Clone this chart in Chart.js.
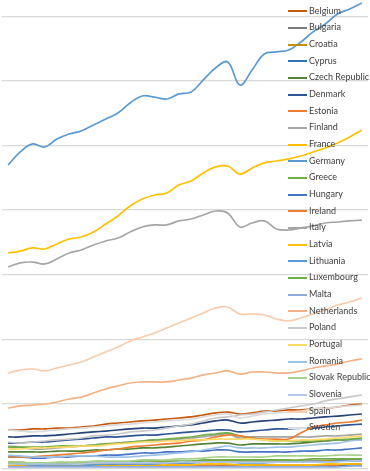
<!DOCTYPE html>
<html>
<head>
<meta charset="utf-8">
<script src="https://cdn.jsdelivr.net/npm/chart.js@4.4.0/dist/chart.umd.min.js"></script>
<style>
    body { margin: 0; background: #ffffff; }
    #wrap { position: relative; width: 370px; height: 471px; overflow: hidden; }
    #legend { position: absolute; left: 288px; top: -14px; font-family: Lato, "Liberation Sans", sans-serif; font-size: 9px; color: #404040; }
    .item { height: 16.68px; line-height: 16.68px; white-space: nowrap; }
    .swatch { display: inline-block; width: 19px; height: 2px; margin-right: 2px; vertical-align: middle; }
</style>
</head>
<body>
<div id="wrap">
    <canvas id="gdpChart" width="370" height="471"></canvas>
    <div id="legend"></div>
</div>
<script>
// 1990 - 2019
const years = [1990, 1991, 1992, 1993, 1994, 1995, 1996, 1997, 1998, 1999, 2000, 2001, 2002, 2003, 2004, 2005, 2006, 2007, 2008, 2009, 2010, 2011, 2012, 2013, 2014, 2015, 2016, 2017, 2018, 2019];

// horizontal gridlines (the value labels are cut off in the picture)
const yTicks = [0, 500, 1000, 1500, 2000, 2500, 3000, 3500];

const countries = ["Austria", "Belgium", "Bulgaria", "Croatia", "Cyprus", "Czech Republic", "Denmark", "Estonia", "Finland", "France", "Germany", "Greece", "Hungary", "Ireland", "Italy", "Latvia", "Lithuania", "Luxembourg", "Malta", "Netherlands", "Poland", "Portugal", "Romania", "Slovak Republic", "Slovenia", "Spain", "Sweden"];

const colors = ["#264478", "#C55A11", "#7B7B7B", "#BF9000", "#2E75B6", "#548235", "#2F5597", "#ED7D31", "#A5A5A5", "#FFC000", "#5B9BD5", "#70AD47", "#4472C4", "#ED7D31", "#A5A5A5", "#FFC000", "#5B9BD5", "#70AD47", "#8FAADC", "#F4B183", "#C9C9C9", "#FFD966", "#9DC3E6", "#A9D18E", "#B4C7E7", "#F8CBAD", "#DBDBDB"];

const austria = [244, 244, 252, 252, 259, 267, 275, 283, 290, 298, 306, 313, 313, 321, 329, 337, 352, 368, 375, 352, 360, 368, 375, 383, 383, 391, 399, 406, 414, 422];
const belgium = [298, 298, 306, 306, 313, 313, 321, 329, 344, 352, 360, 368, 375, 383, 391, 399, 414, 430, 437, 422, 430, 445, 445, 453, 453, 461, 468, 476, 491, 499];
const bulgaria = [50, 43, 35, 35, 35, 35, 27, 27, 27, 35, 35, 35, 35, 43, 43, 43, 50, 50, 58, 58, 58, 58, 58, 58, 58, 58, 58, 66, 66, 66];
const croatia = [50, 50, 35, 35, 35, 35, 35, 43, 43, 43, 43, 43, 50, 50, 50, 50, 58, 58, 58, 58, 50, 50, 50, 50, 50, 50, 58, 58, 58, 58];
const cyprus = [19, 19, 19, 19, 19, 19, 19, 19, 19, 19, 19, 19, 19, 19, 19, 19, 19, 19, 27, 27, 27, 27, 19, 19, 19, 19, 19, 19, 27, 27];
const czech = [128, 128, 128, 128, 135, 135, 135, 143, 143, 151, 151, 159, 159, 166, 174, 182, 190, 197, 197, 182, 190, 190, 190, 190, 197, 205, 213, 221, 221, 228];
const denmark = [197, 197, 205, 205, 213, 221, 228, 236, 244, 244, 252, 259, 259, 267, 275, 283, 290, 298, 298, 283, 290, 298, 306, 306, 313, 313, 321, 329, 337, 344];
const estonia = [19, 19, 19, 19, 19, 19, 19, 19, 19, 19, 19, 19, 19, 27, 27, 27, 27, 27, 27, 27, 27, 27, 27, 27, 27, 27, 27, 27, 35, 35];
const finland = [174, 166, 151, 151, 159, 166, 174, 182, 190, 197, 205, 213, 221, 221, 228, 236, 244, 259, 267, 236, 244, 244, 244, 244, 244, 244, 252, 252, 259, 267];
const france = [1668, 1683, 1707, 1699, 1738, 1776, 1792, 1830, 1892, 1954, 2032, 2086, 2117, 2132, 2194, 2225, 2287, 2334, 2341, 2279, 2326, 2365, 2380, 2396, 2419, 2450, 2481, 2519, 2566, 2620];
const germany = [2349, 2450, 2512, 2488, 2550, 2589, 2612, 2659, 2705, 2752, 2829, 2883, 2875, 2860, 2899, 2914, 3007, 3100, 3146, 2968, 3084, 3208, 3224, 3239, 3301, 3379, 3440, 3518, 3557, 3603];
const greece = [166, 166, 166, 166, 174, 174, 174, 182, 190, 197, 205, 213, 221, 228, 236, 244, 259, 267, 275, 252, 236, 221, 213, 213, 213, 213, 221, 221, 228, 236];
const hungary = [89, 89, 81, 81, 89, 89, 97, 97, 104, 104, 112, 120, 120, 128, 128, 135, 135, 143, 143, 128, 128, 128, 128, 128, 135, 135, 143, 143, 151, 159];
const ireland = [89, 89, 89, 97, 104, 112, 120, 128, 143, 151, 166, 174, 182, 190, 197, 213, 221, 244, 259, 252, 236, 228, 228, 228, 275, 321, 337, 352, 360, 375];
const italy = [1560, 1591, 1598, 1583, 1622, 1668, 1691, 1730, 1761, 1784, 1830, 1869, 1885, 1885, 1916, 1931, 1962, 1993, 1978, 1869, 1900, 1916, 1854, 1846, 1861, 1877, 1900, 1908, 1916, 1923];
const latvia = [27, 27, 19, 19, 19, 19, 19, 19, 19, 19, 19, 27, 27, 27, 27, 27, 35, 35, 35, 27, 27, 27, 27, 27, 27, 27, 35, 35, 35, 35];
const lithuania = [43, 35, 27, 27, 27, 27, 27, 27, 35, 35, 35, 35, 35, 43, 43, 43, 50, 50, 50, 43, 43, 43, 50, 50, 50, 50, 50, 58, 58, 58];
const luxembourg = [43, 43, 43, 43, 43, 43, 50, 50, 50, 50, 50, 58, 58, 58, 58, 58, 66, 66, 66, 66, 66, 66, 66, 66, 66, 74, 74, 74, 74, 74];
const malta = [12, 12, 12, 12, 12, 12, 12, 12, 12, 12, 12, 12, 12, 12, 12, 12, 12, 12, 12, 12, 12, 12, 12, 12, 12, 12, 12, 12, 19, 19];
const netherlands = [468, 484, 491, 499, 515, 538, 553, 584, 615, 639, 662, 670, 670, 670, 685, 700, 724, 739, 755, 731, 747, 747, 739, 739, 755, 778, 793, 809, 832, 848];
const poland = [205, 197, 205, 213, 221, 228, 236, 252, 259, 267, 283, 290, 298, 313, 329, 344, 368, 391, 399, 414, 422, 437, 453, 468, 484, 499, 523, 538, 554, 569];
const portugal = [151, 151, 159, 159, 166, 166, 174, 174, 182, 190, 197, 205, 205, 213, 213, 221, 221, 228, 228, 228, 228, 221, 213, 213, 221, 221, 228, 236, 244, 252];
const romania = [104, 97, 89, 89, 89, 97, 97, 97, 89, 89, 89, 97, 104, 112, 120, 128, 143, 159, 174, 159, 159, 159, 166, 166, 174, 182, 190, 197, 213, 221];
const slovakia = [50, 50, 43, 43, 50, 50, 50, 58, 58, 58, 58, 66, 66, 66, 74, 74, 81, 89, 89, 89, 89, 89, 97, 97, 97, 97, 97, 104, 104, 104];
const slovenia = [35, 35, 35, 35, 35, 35, 35, 43, 43, 43, 43, 43, 43, 43, 50, 50, 50, 50, 50, 50, 50, 50, 50, 50, 50, 50, 50, 50, 58, 58];
const spain = [739, 762, 770, 755, 778, 801, 824, 863, 902, 940, 987, 1018, 1049, 1087, 1126, 1165, 1204, 1242, 1250, 1196, 1196, 1188, 1157, 1142, 1165, 1196, 1227, 1265, 1289, 1320];
const sweden = [298, 290, 283, 290, 298, 306, 313, 321, 329, 337, 344, 352, 360, 368, 375, 383, 399, 414, 422, 391, 406, 422, 430, 437, 445, 461, 468, 476, 484, 491];

const series = [austria, belgium, bulgaria, croatia, cyprus, czech, denmark, estonia, finland, france, germany, greece, hungary, ireland, italy, latvia, lithuania, luxembourg, malta, netherlands, poland, portugal, romania, slovakia, slovenia, spain, sweden];

const yMax = 3626;

document.addEventListener("DOMContentLoaded", function () {
    setChart();
    setLegend();
});

function setChart() {
    const ctx = document.getElementById("gdpChart").getContext("2d");

    const datasets = countries.map((name, i) => ({
        label: name,
        data: series[i],
        borderColor: colors[i],
        backgroundColor: colors[i],
        borderWidth: 1.7,
        pointRadius: 0,
        tension: 0.4,
        fill: false,
        // excel draws the last series on top
        order: countries.length - i,
    }));

    new Chart(ctx, {
        type: "line",
        data: {
            labels: years,
            datasets: datasets,
        },
        options: {
            responsive: false,
            animation: false,
            devicePixelRatio: 1,
            layout: {
                padding: { left: 2, right: 2, top: 0, bottom: 2.5 },
            },
            plugins: {
                legend: { display: false },
                tooltip: { enabled: false },
            },
            scales: {
                x: {
                    display: false,
                    offset: true,
                },
                y: {
                    display: true,
                    min: 0,
                    max: yMax,
                    afterBuildTicks: axis => {
                        axis.ticks = yTicks.map(v => ({ value: v }));
                    },
                    ticks: { display: false },
                    grid: { color: "#D9D9D9", lineWidth: 1.3, drawTicks: false },
                    border: { display: false },
                },
            },
        },
    });
}

function setLegend() {
    const legendEl = document.getElementById("legend");

    countries.forEach((name, i) => {
        const item = document.createElement("div");
        item.className = "item";

        const swatch = document.createElement("span");
        swatch.className = "swatch";
        swatch.style.background = colors[i];

        item.appendChild(swatch);
        item.appendChild(document.createTextNode(name));
        legendEl.appendChild(item);
    });
}
</script>
</body>
</html>
